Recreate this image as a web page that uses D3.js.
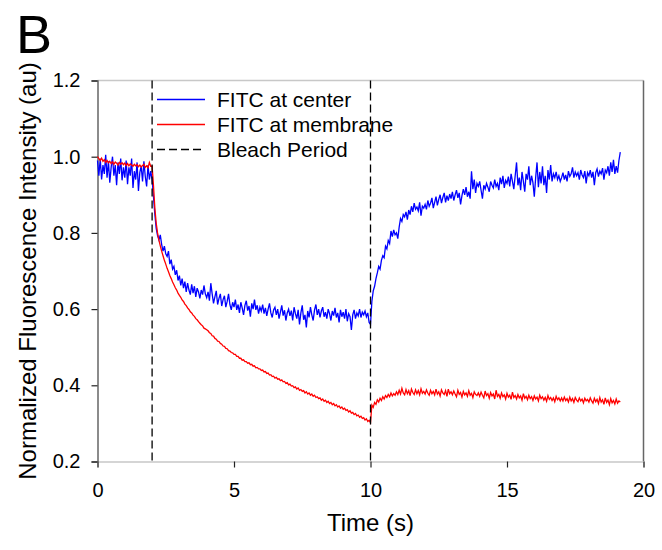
<!DOCTYPE html>
<html>
<head>
<meta charset="utf-8">
<script src="https://cdn.jsdelivr.net/npm/d3@7"></script>
<style>
  html, body { margin: 0; padding: 0; background: #fff; }
  svg { display: block; font-family: "Liberation Sans", Arial, sans-serif; }
</style>
</head>
<body>
<svg id="chart" width="662" height="550"></svg>
<script>
// ---- data ----
const sampleStep = 0.05; // seconds between samples
const xTicks = [0, 5, 10, 15, 20];
const yTicks = [0.2, 0.4, 0.6, 0.8, 1.0, 1.2];
const bleachTimes = [2, 10];
const seriesNames = ["FITC at center", "FITC at membrane", "Bleach Period"];

const fitcCenter = [
  0.990,0.950,0.995,0.940,0.978,0.955,1.005,0.945,0.988,0.932,0.972,1.000,0.950,0.978,0.925,0.985,0.955,0.995,0.938,0.972,
  0.945,0.990,0.928,0.972,0.950,0.995,0.918,0.962,0.940,0.985,0.910,0.958,0.975,0.935,0.988,0.948,0.922,0.978,0.940,0.962,
  0.940,0.895,0.850,0.812,0.793,0.782,0.795,0.770,0.752,0.765,0.745,0.738,0.752,0.718,0.730,0.705,0.712,0.690,0.702,0.675,
  0.688,0.662,0.680,0.655,0.672,0.645,0.668,0.650,0.638,0.665,0.642,0.660,0.632,0.655,0.645,0.628,0.650,0.638,0.662,0.640,
  0.630,0.645,0.622,0.668,0.640,0.615,0.632,0.648,0.612,0.628,0.640,0.608,0.625,0.635,0.605,0.620,0.640,0.612,0.598,0.618,
  0.605,0.625,0.598,0.612,0.590,0.618,0.603,0.585,0.610,0.622,0.596,0.608,0.580,0.615,0.600,0.625,0.598,0.610,0.588,0.605,
  0.595,0.612,0.588,0.603,0.582,0.600,0.615,0.590,0.578,0.598,0.605,0.585,0.600,0.575,0.592,0.610,0.583,0.597,0.570,0.590,
  0.600,0.582,0.596,0.570,0.605,0.588,0.575,0.598,0.560,0.590,0.610,0.572,0.585,0.552,0.595,0.578,0.605,0.585,0.570,0.598,
  0.612,0.585,0.600,0.578,0.595,0.605,0.580,0.592,0.575,0.600,0.588,0.570,0.595,0.583,0.603,0.578,0.590,0.565,0.598,0.580,
  0.592,0.575,0.600,0.568,0.588,0.580,0.545,0.585,0.598,0.575,0.590,0.582,0.600,0.578,0.592,0.585,0.595,0.580,0.590,0.565,
  0.560,0.620,0.648,0.660,0.680,0.695,0.712,0.705,0.728,0.740,0.735,0.765,0.758,0.780,0.772,0.805,0.790,0.808,0.795,0.800,
  0.785,0.815,0.838,0.830,0.848,0.842,0.855,0.835,0.860,0.848,0.870,0.855,0.878,0.862,0.868,0.858,0.880,0.845,0.870,0.865,
  0.875,0.862,0.885,0.870,0.878,0.892,0.865,0.880,0.895,0.872,0.888,0.900,0.878,0.893,0.905,0.880,0.898,0.885,0.902,0.890,
  0.908,0.885,0.900,0.912,0.892,0.905,0.875,0.898,0.915,0.900,0.920,0.895,0.908,0.890,0.962,0.915,0.940,0.905,0.930,0.922,
  0.935,0.912,0.890,0.925,0.915,0.930,0.920,0.908,0.935,0.925,0.918,0.940,0.922,0.930,0.912,0.945,0.928,0.950,0.918,0.938,
  0.930,0.948,0.922,0.955,0.935,0.915,0.950,0.985,0.925,0.945,0.912,0.960,0.935,0.908,0.955,0.940,0.975,0.925,0.950,0.932,
  0.895,0.945,0.985,0.920,0.960,0.930,0.975,0.925,0.950,0.905,0.965,0.940,0.978,0.935,0.955,0.945,0.960,0.940,0.950,0.935,
  0.945,0.958,0.940,0.952,0.935,0.962,0.948,0.955,0.972,0.945,0.960,0.950,0.958,0.940,0.965,0.952,0.945,0.962,0.930,0.958,
  0.950,0.965,0.945,0.960,0.925,0.958,0.968,0.948,0.962,0.955,0.970,0.940,0.965,0.958,0.975,0.950,0.985,0.960,0.992,0.955,
  0.975,0.958,0.990,1.012
];

const fitcMembrane = [
  1.000,0.995,0.990,0.996,0.988,0.992,0.985,0.990,0.984,0.988,0.982,0.987,0.980,0.986,0.983,0.978,0.985,0.980,0.984,0.979,
  0.983,0.977,0.982,0.976,0.981,0.978,0.975,0.980,0.976,0.979,0.974,0.978,0.973,0.977,0.980,0.972,0.976,0.971,0.985,0.975,
  0.975,0.925,0.866,0.826,0.800,0.781,0.766,0.752,0.740,0.728,0.718,0.707,0.698,0.688,0.680,0.671,0.664,0.656,0.650,0.642,
  0.636,0.631,0.624,0.620,0.613,0.609,0.603,0.599,0.593,0.590,0.584,0.581,0.575,0.572,0.567,0.563,0.559,0.556,0.550,0.548,
  0.546,0.543,0.538,0.536,0.530,0.529,0.523,0.521,0.516,0.515,0.510,0.508,0.503,0.502,0.497,0.496,0.491,0.490,0.486,0.485,
  0.481,0.481,0.476,0.476,0.471,0.471,0.466,0.467,0.462,0.462,0.458,0.459,0.454,0.455,0.450,0.451,0.446,0.447,0.443,0.443,
  0.439,0.440,0.435,0.436,0.431,0.432,0.427,0.428,0.423,0.424,0.419,0.421,0.416,0.417,0.412,0.414,0.409,0.410,0.405,0.407,
  0.401,0.403,0.398,0.399,0.394,0.396,0.390,0.393,0.387,0.389,0.384,0.386,0.380,0.383,0.377,0.380,0.374,0.377,0.371,0.374,
  0.368,0.370,0.365,0.367,0.361,0.364,0.358,0.361,0.355,0.358,0.352,0.355,0.349,0.352,0.346,0.349,0.343,0.346,0.340,0.343,
  0.337,0.340,0.334,0.336,0.330,0.333,0.327,0.329,0.323,0.326,0.320,0.322,0.316,0.319,0.313,0.315,0.309,0.312,0.305,0.308,
  0.302,0.348,0.342,0.355,0.350,0.362,0.356,0.366,0.360,0.370,0.364,0.373,0.368,0.376,0.370,0.380,0.372,0.378,0.374,0.383,
  0.376,0.387,0.377,0.392,0.380,0.375,0.389,0.378,0.386,0.373,0.390,0.381,0.376,0.388,0.378,0.386,0.375,0.391,0.379,0.384,
  0.377,0.388,0.379,0.374,0.387,0.378,0.384,0.375,0.390,0.377,0.383,0.372,0.388,0.380,0.376,0.386,0.371,0.390,0.378,0.383,
  0.375,0.385,0.377,0.370,0.387,0.376,0.381,0.369,0.384,0.375,0.380,0.371,0.386,0.374,0.379,0.368,0.383,0.376,0.373,0.380,
  0.371,0.382,0.374,0.367,0.385,0.373,0.378,0.366,0.381,0.372,0.377,0.364,0.387,0.371,0.376,0.366,0.380,0.370,0.375,0.364,
  0.379,0.369,0.374,0.363,0.382,0.368,0.373,0.364,0.376,0.367,0.372,0.361,0.378,0.366,0.371,0.362,0.374,0.365,0.370,0.360,
  0.372,0.364,0.369,0.359,0.374,0.365,0.370,0.361,0.368,0.358,0.373,0.363,0.368,0.360,0.367,0.357,0.371,0.362,0.367,0.359,
  0.367,0.359,0.369,0.360,0.365,0.356,0.369,0.359,0.365,0.355,0.368,0.361,0.357,0.367,0.359,0.364,0.354,0.366,0.359,0.363,
  0.356,0.367,0.359,0.353,0.366,0.357,0.363,0.352,0.368,0.356,0.362,0.350,0.367,0.355,0.361,0.349,0.365,0.354,0.360,0.351,
  0.364,0.353,0.359,0.356
];

// ---- layout ----
const svg = d3.select("#chart");
const plot = { left: 97.5, right: 643.5, top: 80.5, bottom: 461.5 };

const x = d3.scaleLinear().domain([0, 20]).range([plot.left, plot.right]);
const y = d3.scaleLinear().domain([0.2, 1.2]).range([plot.bottom, plot.top]);

// Panel letter
svg.append("text").attr("x", 16).attr("y", 53)
  .attr("font-size", 54).attr("fill", "#000").text("B");

// frame: top light gray, right dark gray
svg.append("line").attr("x1", plot.left).attr("x2", plot.right).attr("y1", plot.top).attr("y2", plot.top)
  .attr("stroke", "#c8c8c8").attr("stroke-width", 1.5);
svg.append("line").attr("x1", plot.right).attr("x2", plot.right).attr("y1", plot.top).attr("y2", plot.bottom)
  .attr("stroke", "#666").attr("stroke-width", 1.5);

// x axis
const xAxis = svg.append("g").attr("transform", `translate(0,${plot.bottom})`)
  .call(d3.axisBottom(x).tickValues(xTicks).tickFormat(d3.format("d")).tickSizeOuter(0).tickSize(6).tickPadding(15));
xAxis.select(".domain").attr("stroke", "#c8c8c8").attr("stroke-width", 1.5);
xAxis.selectAll(".tick line").attr("stroke", "#222").attr("stroke-width", 1.2);
xAxis.selectAll(".tick text").attr("font-size", 20).attr("fill", "#000")
  .attr("font-family", "'Liberation Sans', Arial, sans-serif");

// y axis
const yAxis = svg.append("g").attr("transform", `translate(${plot.left},0)`)
  .call(d3.axisLeft(y).tickValues(yTicks).tickFormat(d3.format(".1f")).tickSizeOuter(0).tickSize(6).tickPadding(11));
yAxis.select(".domain").attr("stroke", "#666").attr("stroke-width", 1.5);
yAxis.selectAll(".tick line").attr("stroke", "#222").attr("stroke-width", 1.2);
yAxis.selectAll(".tick text").attr("font-size", 20).attr("fill", "#000")
  .attr("font-family", "'Liberation Sans', Arial, sans-serif");

// axis titles
svg.append("text").attr("x", x(10)).attr("y", 531).attr("text-anchor", "middle")
  .attr("font-size", 24).attr("fill", "#000").text("Time (s)");
svg.append("text").attr("transform", `translate(36,${(plot.top + plot.bottom) / 2}) rotate(-90)`)
  .attr("text-anchor", "middle").attr("font-size", 24).attr("fill", "#000")
  .text("Normalized Fluorescence Intensity (au)");

// data lines
const line = d3.line().x((d, i) => x(i * sampleStep)).y(d => y(d));
svg.append("path").datum(fitcCenter).attr("d", line)
  .attr("fill", "none").attr("stroke", "#0000ff").attr("stroke-width", 1.3);
svg.append("path").datum(fitcMembrane).attr("d", line)
  .attr("fill", "none").attr("stroke", "#ff0000").attr("stroke-width", 1.3);

// bleach period lines
svg.selectAll(".bleach").data(bleachTimes).enter().append("line")
  .attr("x1", d => x(d)).attr("x2", d => x(d)).attr("y1", plot.top).attr("y2", plot.bottom)
  .attr("stroke", "#000").attr("stroke-width", 1.3).attr("stroke-dasharray", "8,4");

// legend
const legendRows = [
  { name: seriesNames[0], color: "#0000ff", dash: null },
  { name: seriesNames[1], color: "#ff0000", dash: null },
  { name: seriesNames[2], color: "#000", dash: "8,4" }
];
const lg = svg.append("g");
legendRows.forEach((r, i) => {
  const ly = 99.5 + i * 25;
  lg.append("line").attr("x1", 157).attr("x2", 205).attr("y1", ly).attr("y2", ly)
    .attr("stroke", r.color).attr("stroke-width", 1.3).attr("stroke-dasharray", r.dash);
  lg.append("text").attr("x", 217).attr("y", ly).attr("dy", "0.36em")
    .attr("font-size", 21).attr("fill", "#000").text(r.name);
});
</script>
</body>
</html>
